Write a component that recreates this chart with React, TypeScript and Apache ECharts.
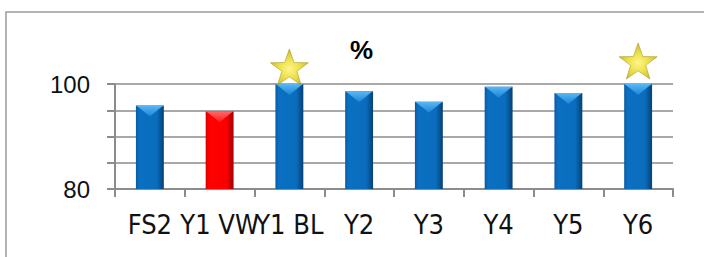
import React, { useEffect, useRef } from "react";
import * as echarts from "echarts";

const categories = ["FS2", "Y1 VW", "Y1 BL", "Y2", "Y3", "Y4", "Y5", "Y6"];
const values = [95.9, 94.8, 100, 98.6, 96.6, 99.5, 98.3, 100];
const highlightCategory = "Y1 VW";
const starCategories = ["Y1 BL", "Y6"];
const yTickLabels = [80, 100];
const titleText = "%";

const STAR_PATH =
  "path://M50 0 L61.76 33.82 L97.55 34.55 L69.02 56.18 L79.39 90.45 L50 70 L20.61 90.45 L30.98 56.18 L2.45 34.55 L38.24 33.82 Z";

export default function App() {
  const ref = useRef<HTMLDivElement>(null);
  useEffect(() => {
    document.body.style.margin = "0";
    const chart = echarts.init(ref.current!, null, { renderer: "svg" });
    const blueBody = new echarts.graphic.LinearGradient(0, 0, 1, 0, [
      { offset: 0, color: "#0a5aa2" },
      { offset: 0.12, color: "#0b70c2" },
      { offset: 0.75, color: "#0a6cbc" },
      { offset: 1, color: "#064075" },
    ]);
    const redBody = new echarts.graphic.LinearGradient(0, 0, 1, 0, [
      { offset: 0, color: "#d80000" },
      { offset: 0.12, color: "#ff0000" },
      { offset: 0.75, color: "#fb0000" },
      { offset: 1, color: "#a00000" },
    ]);
    const blueBevel = new echarts.graphic.LinearGradient(0, 0, 0, 1, [
      { offset: 0, color: "#5ab8f4" },
      { offset: 1, color: "#1b84d6" },
    ]);
    const redBevel = new echarts.graphic.LinearGradient(0, 0, 0, 1, [
      { offset: 0, color: "#ff6a6a" },
      { offset: 1, color: "#ff1a1a" },
    ]);
    const starFill = new echarts.graphic.RadialGradient(0.5, 0.55, 0.6, [
      { offset: 0, color: "#fff36a" },
      { offset: 0.45, color: "#e8d820" },
      { offset: 1, color: "#b09a00" },
    ]);
    const starOffsets: Record<string, number> = { "Y1 BL": -17, Y6: -23 };

    chart.setOption({
      animation: false,
      title: {
        text: titleText,
        left: 345,
        top: 32,
        textStyle: {
          fontFamily: "'Liberation Sans', Arial, sans-serif",
          fontSize: 26,
          fontWeight: "bold",
          color: "#000",
        },
      },
      graphic: [
        {
          type: "rect",
          shape: { x: 6, y: 12, width: 720, height: 260 },
          style: { fill: "none", stroke: "#9a9a9a", lineWidth: 1.5 },
          silent: true,
        },
      ],
      grid: { left: 115, right: 31, top: 84, bottom: 68 },
      xAxis: {
        type: "category",
        data: categories,
        boundaryGap: true,
        axisLine: { lineStyle: { color: "#8c8c8c", width: 2 } },
        axisTick: { show: true, length: 8, lineStyle: { color: "#8c8c8c", width: 2 } },
        axisLabel: {
          interval: 0,
          margin: 22,
          fontFamily: "'Liberation Sans Narrow', 'DejaVu Sans Condensed', 'Liberation Sans', sans-serif",
          fontSize: 27,
          color: "#111",
        },
      },
      yAxis: {
        type: "value",
        min: 80,
        max: 100,
        interval: 5,
        axisLine: { show: true, lineStyle: { color: "#8c8c8c", width: 2 } },
        axisTick: { show: true, length: 8, lineStyle: { color: "#8c8c8c", width: 2 } },
        splitLine: { lineStyle: { color: "#a8a8a8", width: 2 } },
        axisLabel: {
          margin: 25,
          fontFamily: "'Liberation Sans', Arial, sans-serif",
          fontSize: 24,
          color: "#111",
          formatter: (v: number) => (yTickLabels.includes(v) ? String(v) : ""),
        },
      },
      series: [
        {
          type: "custom",
          data: categories.map((c, i) => [i, values[i]]),
          clip: false,
          z: 2,
          renderItem: (params: any, api: any) => {
            const idx = api.value(0);
            const top = api.coord([idx, api.value(1)]);
            const base = api.coord([idx, 80]);
            const w = api.size([1, 0])[0] * 0.4;
            const x0 = top[0] - w / 2;
            const hl = categories[idx] === highlightCategory;
            const bevelH = 11;
            return {
              type: "group",
              children: [
                {
                  type: "rect",
                  shape: { x: x0, y: top[1], width: w, height: base[1] - top[1] },
                  style: { fill: hl ? redBody : blueBody },
                },
                {
                  type: "polygon",
                  shape: {
                    points: [
                      [x0, top[1]],
                      [x0 + w, top[1]],
                      [x0 + w - 3, top[1] + 2],
                      [top[0], top[1] + bevelH],
                      [x0 + 3, top[1] + 2],
                    ],
                  },
                  style: { fill: hl ? redBevel : blueBevel },
                },
              ],
            };
          },
        },
        {
          type: "scatter",
          z: 5,
          clip: false,
          symbol: STAR_PATH,
          symbolSize: [38, 36],
          itemStyle: { color: starFill, borderColor: "#9c8a00", borderWidth: 0.6 },
          data: starCategories.map((c) => ({
            value: [c, values[categories.indexOf(c)]],
            symbolOffset: [0, starOffsets[c]],
          })),
        },
      ],
    });
    return () => chart.dispose();
  }, []);
  return <div ref={ref} style={{ width: 704, height: 257 }} />;
}
